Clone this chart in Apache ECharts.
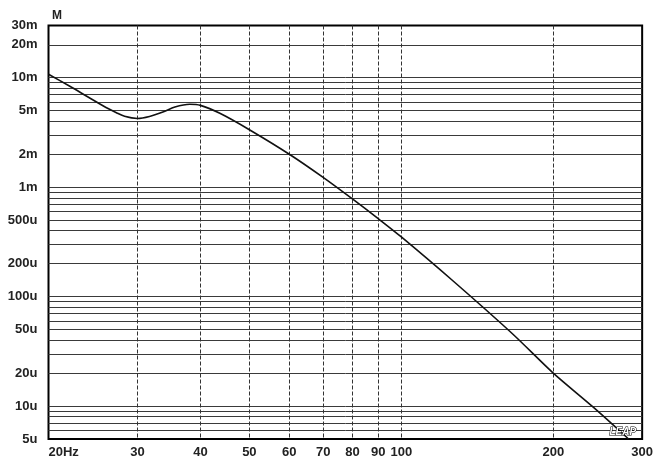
<!DOCTYPE html>
<html>
<head>
<meta charset="utf-8">
<script src="https://cdn.jsdelivr.net/npm/echarts@6/dist/echarts.min.js"></script>
<style>
html,body{margin:0;padding:0;background:#fff;}
#c{width:656px;height:463px;}
</style>
</head>
<body>
<div id="c"></div>
<script>
// Frequency (Hz) and displacement (m)
var freq = [20, 22, 24, 26, 27.2, 28.3, 30, 31.7, 33.7, 35.6, 38.1, 40, 43.7, 50, 60, 70, 80, 90, 100, 126, 166, 200, 240, 282];
var disp = [10.77e-3, 8.4e-3, 6.63e-3, 5.34e-3, 4.82e-3, 4.44e-3, 4.24e-3, 4.42e-3, 4.86e-3, 5.4e-3, 5.72e-3, 5.59e-3, 4.73e-3, 3.35e-3, 2.0e-3, 1.229e-3, 0.781e-3, 0.516e-3, 0.351e-3, 0.1418e-3, 45.8e-6, 20e-6, 9.77e-6, 5e-6];

var xTickLabels = [20, 30, 40, 50, 60, 70, 80, 90, 100, 200, 300];
var xGridValues = [30, 40, 50, 60, 70, 80, 90, 100, 200];
var yTickLabels = [5e-6, 1e-5, 2e-5, 5e-5, 1e-4, 2e-4, 5e-4, 1e-3, 2e-3, 5e-3, 1e-2, 2e-2, 3e-2];
var yGridValues = [6e-6, 7e-6, 8e-6, 9e-6, 1e-5, 2e-5, 3e-5, 4e-5, 5e-5, 6e-5, 7e-5, 8e-5, 9e-5,
  1e-4, 2e-4, 3e-4, 4e-4, 5e-4, 6e-4, 7e-4, 8e-4, 9e-4,
  1e-3, 2e-3, 3e-3, 4e-3, 5e-3, 6e-3, 7e-3, 8e-3, 9e-3, 1e-2, 2e-2];

function fmtY(v) {
  if (v >= 1e-3 - 1e-9) return Math.round(v * 1000) + 'm';
  return Math.round(v * 1e6) + 'u';
}

var chart = echarts.init(document.getElementById('c'), null, {renderer: 'canvas'});
var points = freq.map(function (f, i) { return [f, disp[i]]; });

var option = {
  backgroundColor: '#fff',
  animation: false,
  grid: {left: 48.5, right: 12, top: 25.5, bottom: 24, show: true, borderColor: '#000', borderWidth: 2, backgroundColor: 'transparent'},
  xAxis: {
    type: 'log', logBase: 10, min: 20, max: 300,
    axisLine: {show: false},
    axisTick: {show: false, customValues: xGridValues},
    splitLine: {show: true, lineStyle: {color: '#333', width: 1, type: [4, 2]}},
    axisLabel: {
      customValues: xTickLabels,
      show: true, margin: 7,
      alignMinLabel: 'left',
      color: '#222', fontFamily: 'Liberation Sans, Arial, sans-serif', fontWeight: 'bold', fontSize: 13,
      formatter: function (v) { var r = Math.round(v); return r === 20 ? '20Hz' : String(r); }
    }
  },
  yAxis: {
    type: 'log', logBase: 10, min: 5e-6, max: 0.03,
    axisLine: {show: false},
    axisTick: {show: false, customValues: yGridValues},
    splitLine: {show: true, lineStyle: {color: '#3a3a3a', width: 1}},
    axisLabel: {
      customValues: yTickLabels,
      show: true, margin: 11,
      color: '#222', fontFamily: 'Liberation Sans, Arial, sans-serif', fontWeight: 'bold', fontSize: 13,
      padding: [0, 0, 4, 0],
      formatter: function (v) { return fmtY(v); }
    }
  },
  series: [{
    type: 'line',
    data: points,
    smooth: 0.3,
    showSymbol: false,
    clip: true,
    lineStyle: {color: '#111', width: 1.6}
  }],
  graphic: [
    {type: 'text', left: 52, top: 10, style: {text: 'M', font: 'bold 12px "Liberation Sans", Arial, sans-serif', fill: '#222'}},
    {type: 'text', left: 609, top: 427, z: 100, style: {text: 'LEAP', font: 'italic bold 10px "Liberation Sans", Arial, sans-serif', fill: '#fff', stroke: '#000', lineWidth: 1}}
  ]
};
chart.setOption(option);
</script>
</body>
</html>
